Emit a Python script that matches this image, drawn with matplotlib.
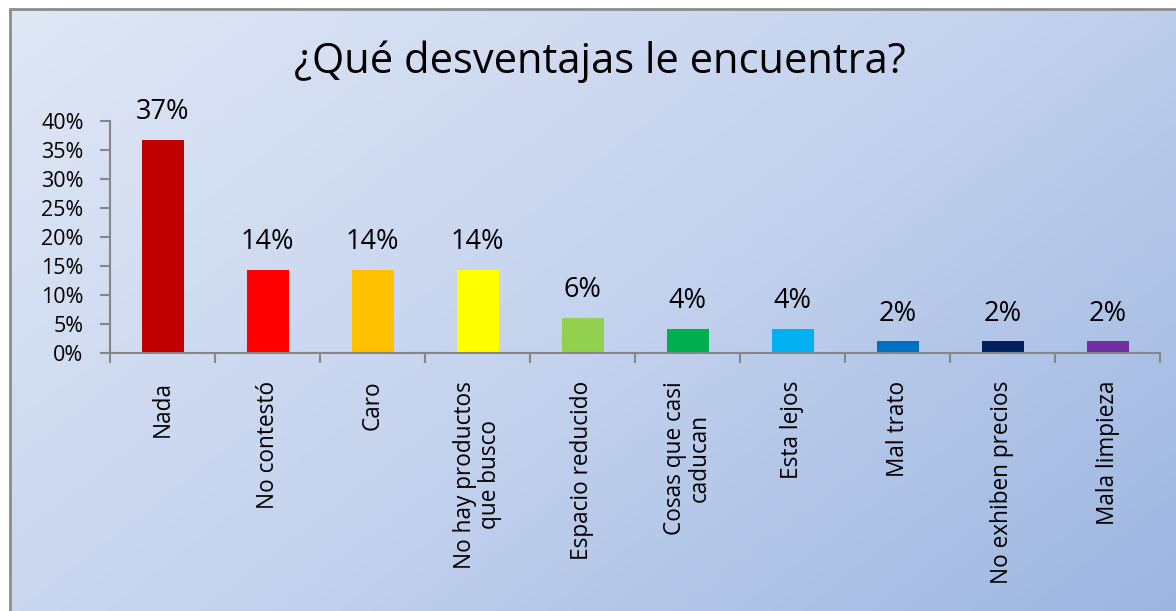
import numpy as np
import matplotlib
matplotlib.use("Agg")
import matplotlib.pyplot as plt
from matplotlib.colors import LinearSegmentedColormap
from matplotlib.patches import Rectangle

categories = ["Nada", "No contestó", "Caro", "No hay productos\nque busco",
              "Espacio reducido", "Cosas que casi\ncaducan", "Esta lejos",
              "Mal trato", "No exhiben precios", "Mala limpieza"]
values = [0.367, 0.143, 0.143, 0.143, 0.061, 0.041, 0.041, 0.020, 0.020, 0.020]
value_labels = ["37%", "14%", "14%", "14%", "6%", "4%", "4%", "2%", "2%", "2%"]
colors = ["#C00000", "#FF0000", "#FFC000", "#FFFF00", "#92D050",
          "#00B050", "#00B0F0", "#0070C0", "#002060", "#7030A0"]
yticks = [0, 0.05, 0.10, 0.15, 0.20, 0.25, 0.30, 0.35, 0.40]
ytick_labels = ["0%", "5%", "10%", "15%", "20%", "25%", "30%", "35%", "40%"]
title = "¿Qué desventajas le encuentra?"

W, H = 1176, 611
fig = plt.figure(figsize=(W / 100, H / 100), dpi=100)
fig.patch.set_facecolor("white")
plt.rcParams['font.family'] = ['Open Sans', 'DejaVu Sans']

# gradient background panel
bg = fig.add_axes([10 / W, 0, 1 - 10 / W, 1 - 9 / H])
bg.set_axis_off()
yy, xx = np.mgrid[0:1:200j, 0:1:300j]
t = (xx * 0.6 + yy * 0.4)
cmap = LinearSegmentedColormap.from_list("g", ["#e0e7f5", "#c5d3ee", "#9db6e1"])
bg.imshow(t, cmap=cmap, aspect="auto", extent=[0, 1, 0, 1], origin="upper",
          vmin=0, vmax=1)
bg.set_xlim(0, 1)
bg.set_ylim(0, 1)
fig.add_artist(Rectangle((10 / W, -0.01), 1.2, 1 - 9 / H + 0.01, transform=fig.transFigure,
                         fill=False, edgecolor="#8c8c8c", linewidth=2))

ax = fig.add_axes([110 / W, 258 / H, 1050 / W, 232 / H])
ax.patch.set_alpha(0)
x = np.arange(len(categories))
ax.bar(x, values, width=0.4, color=colors)
ax.set_xlim(-0.5, len(categories) - 0.5)
ax.set_ylim(0, 0.40)
ax.set_yticks(yticks)
ax.set_yticklabels(ytick_labels, fontsize=15.5)
ax.set_xticks(x)
ax.set_xticklabels(categories, rotation=90, fontsize=16.3, va="top", ha="center",
                   multialignment="center", linespacing=1.05)
ax.tick_params(axis="x", which="major", length=0, pad=20)
ax.set_xticks(np.arange(-0.5, len(categories)), minor=True)
ax.tick_params(axis="x", which="minor", length=7, color="#868686", width=1.5)
ax.tick_params(axis="y", length=7, color="#868686", width=1.5, pad=12)
for s in ["top", "right"]:
    ax.spines[s].set_visible(False)
for s in ["left", "bottom"]:
    ax.spines[s].set_color("#868686")
    ax.spines[s].set_linewidth(1.5)

for xi, v, lab in zip(x, values, value_labels):
    ax.annotate(lab, (xi, v), xytext=(0, 10), textcoords="offset points",
                ha="center", va="bottom", fontsize=19.5)

fig.text(600 / W, 1 - 62 / H, title, ha="center", va="center", fontsize=30)

fig.savefig("out.png", dpi=100)
